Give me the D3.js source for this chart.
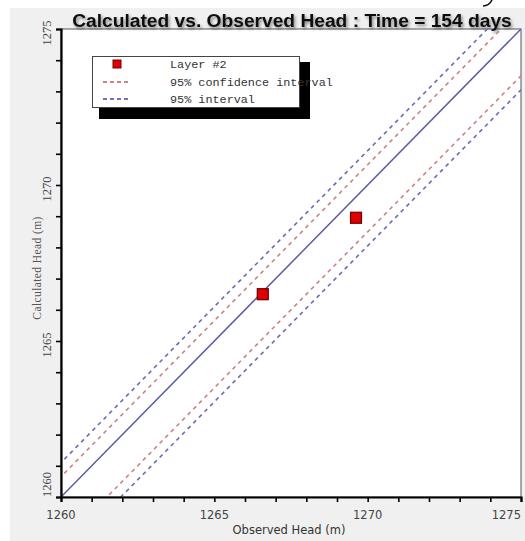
<!DOCTYPE html>
<html>
<head>
<meta charset="utf-8">
<script src="https://cdn.jsdelivr.net/npm/d3@7/dist/d3.min.js"></script>
<style>
  html, body { margin: 0; padding: 0; background: #ffffff; }
  svg { display: block; }
</style>
</head>
<body>
<svg id="chart" width="525" height="541"></svg>
<script>
// ---- data ----
const titleText = "Calculated vs. Observed Head : Time = 154 days";
const xAxisTitle = "Observed Head (m)";
const yAxisTitle = "Calculated Head (m)";
const axisDomain = [1260, 1275];
const majorTicks = [1260, 1265, 1270, 1275];
const minorTicks = [1260, 1261, 1262, 1263, 1264, 1265, 1266, 1267, 1268, 1269, 1270, 1271, 1272, 1273, 1274, 1275];
const observedHead = [1266.58, 1269.62];
const calculatedHead = [1266.5, 1268.95];
const legendLabels = ["Layer #2", "95% confidence interval", "95% interval"];
const confidenceOffsets = [0.65, -1.5];   // red dashed lines (calc - obs)
const intervalOffsets = [1.1, -1.95];     // blue dashed lines (calc - obs)

// ---- layout ----
const svg = d3.select("#chart");
const W = 525, H = 541;
const plot = { left: 61, right: 521, top: 29, bottom: 497 };

const x = d3.scaleLinear().domain(axisDomain).range([plot.left, plot.right]);
const y = d3.scaleLinear().domain(axisDomain).range([plot.bottom, plot.top]);

// background panel
svg.append("rect").attr("x", 0).attr("y", 0).attr("width", W).attr("height", H).attr("fill", "#ffffff");
svg.append("rect").attr("x", 10).attr("y", 8).attr("width", W - 10).attr("height", H - 8).attr("fill", "#f0f0f0");
// small fragment of a glyph from the page above the panel
svg.append("path").attr("d", "M492,0 C490,4 487,6 483,6").attr("fill", "none")
  .attr("stroke", "#111").attr("stroke-width", 1.6);

const defs = svg.append("defs");
defs.append("clipPath").attr("id", "plotClip").append("rect")
  .attr("x", plot.left).attr("y", plot.top)
  .attr("width", plot.right - plot.left).attr("height", plot.bottom - plot.top);
const shadow = defs.append("filter").attr("id", "tshadow").attr("x", "-5%").attr("y", "-40%").attr("width", "110%").attr("height", "200%");
shadow.append("feDropShadow").attr("dx", 1.5).attr("dy", 2).attr("stdDeviation", 1.4)
  .attr("flood-color", "#000").attr("flood-opacity", 0.45);

// plot area
svg.append("rect").attr("x", plot.left).attr("y", plot.top)
  .attr("width", plot.right - plot.left).attr("height", plot.bottom - plot.top)
  .attr("fill", "#ffffff").attr("stroke", "#555").attr("stroke-width", 1);

// title
const title = svg.append("text")
  .attr("x", 292).attr("y", 27).attr("text-anchor", "middle")
  .attr("font-family", "Liberation Sans, Arial, sans-serif").attr("font-weight", "bold")
  .attr("font-size", 20).attr("fill", "#111").attr("filter", "url(#tshadow)")
  .text(titleText);
const tw = title.node().getComputedTextLength();
title.attr("font-size", 20 * 440 / tw);

// lines
const lineGen = d3.line().x(d => x(d[0])).y(d => y(d[1]));
const gLines = svg.append("g").attr("clip-path", "url(#plotClip)");
function diag(offset) { return [[axisDomain[0] - 3, axisDomain[0] - 3 + offset], [axisDomain[1] + 3, axisDomain[1] + 3 + offset]]; }

intervalOffsets.forEach(o => {
  gLines.append("path").attr("d", lineGen(diag(o))).attr("fill", "none")
    .attr("stroke", "#6b6bb5").attr("stroke-width", 1.6).attr("stroke-dasharray", "4,4");
});
confidenceOffsets.forEach(o => {
  gLines.append("path").attr("d", lineGen(diag(o))).attr("fill", "none")
    .attr("stroke", "#cc8282").attr("stroke-width", 1.6).attr("stroke-dasharray", "4,4");
});
gLines.append("path").attr("d", lineGen(diag(0))).attr("fill", "none")
  .attr("stroke", "#5c5ca6").attr("stroke-width", 1.5);

// axes
const xAxis = d3.axisBottom(x).tickValues(minorTicks).tickSize(5).tickFormat("");
const gx = svg.append("g").attr("transform", `translate(0,${plot.bottom})`).call(xAxis);
gx.select(".domain").attr("stroke", "#000").attr("stroke-width", 2.2);
gx.selectAll(".tick line").attr("stroke", "#000").attr("stroke-width", 1.6);

const yAxis = d3.axisLeft(y).tickValues(minorTicks).tickSize(5).tickFormat("");
const gy = svg.append("g").attr("transform", `translate(${plot.left},0)`).call(yAxis);
gy.select(".domain").attr("stroke", "#000").attr("stroke-width", 2.2);
gy.selectAll(".tick line").attr("stroke", "#000").attr("stroke-width", 1.6);

// x tick labels
svg.append("g").selectAll("text").data(majorTicks).join("text")
  .attr("x", d => x(d))
  .attr("y", plot.bottom + 22)
  .attr("text-anchor", (d, i) => i === majorTicks.length - 1 ? "end" : "middle")
  .attr("font-family", "DejaVu Sans, Tahoma, sans-serif").attr("font-size", 11.5)
  .attr("fill", "#444").text(d => d);

// y tick labels (rotated)
svg.append("g").selectAll("text").data(majorTicks).join("text")
  .attr("transform", (d, i) => {
    const yy = i === 0 ? y(d) : y(d) + 4;
    return `translate(51,${yy}) rotate(-90)`;
  })
  .attr("text-anchor", (d, i) => i === 0 ? "start" : "middle")
  .attr("font-family", "Liberation Serif, DejaVu Serif, serif").attr("font-size", 12.5)
  .attr("fill", "#444").text(d => d);

// axis titles
svg.append("text").attr("x", 289).attr("y", 534).attr("text-anchor", "middle")
  .attr("font-family", "DejaVu Sans, Tahoma, sans-serif").attr("font-size", 11.5)
  .attr("fill", "#333").text(xAxisTitle);
svg.append("text").attr("transform", "translate(41,268) rotate(-90)").attr("text-anchor", "middle")
  .attr("font-family", "Liberation Serif, DejaVu Serif, serif").attr("font-size", 11.5)
  .attr("letter-spacing", 0.4)
  .attr("fill", "#555").text(yAxisTitle);

// data points
const pts = observedHead.map((o, i) => [o, calculatedHead[i]]);
svg.append("g").selectAll("rect").data(pts).join("rect")
  .attr("x", d => x(d[0]) - 5.5).attr("y", d => y(d[1]) - 5.5)
  .attr("width", 11).attr("height", 11)
  .attr("fill", "#e00000").attr("stroke", "#6a0000").attr("stroke-width", 1.2);

// legend
const lg = svg.append("g");
lg.append("rect").attr("x", 99).attr("y", 62).attr("width", 211).attr("height", 57).attr("fill", "#000");
lg.append("rect").attr("x", 92.5).attr("y", 56.5).attr("width", 207).attr("height", 51)
  .attr("fill", "#fff").attr("stroke", "#444").attr("stroke-width", 1);
const rowsY = [64, 82, 99];
lg.append("rect").attr("x", 113).attr("y", rowsY[0] - 4).attr("width", 8).attr("height", 8)
  .attr("fill", "#e00000").attr("stroke", "#7a0000").attr("stroke-width", 1);
lg.append("line").attr("x1", 103).attr("x2", 130).attr("y1", rowsY[1]).attr("y2", rowsY[1])
  .attr("stroke", "#c05a5a").attr("stroke-width", 1.3).attr("stroke-dasharray", "4,3");
lg.append("line").attr("x1", 103).attr("x2", 130).attr("y1", rowsY[2]).attr("y2", rowsY[2])
  .attr("stroke", "#45459a").attr("stroke-width", 1.3).attr("stroke-dasharray", "4,3");
lg.selectAll("text.lab").data(legendLabels).join("text").attr("class", "lab")
  .attr("x", 170).attr("y", (d, i) => rowsY[i] + 4)
  .attr("font-family", "Liberation Mono, DejaVu Sans Mono, monospace").attr("font-size", 11.8)
  .attr("fill", "#333").text(d => d);
</script>
</body>
</html>
